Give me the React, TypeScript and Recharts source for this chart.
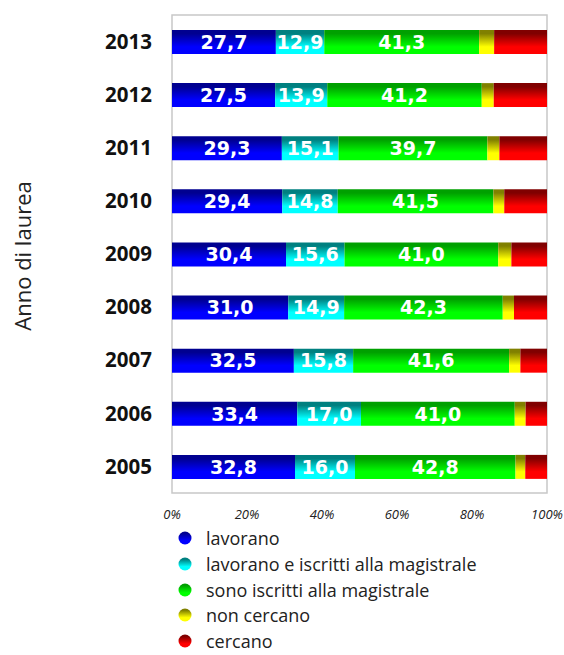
import React from 'react';
import { BarChart, Bar, XAxis, YAxis, LabelList, ReferenceArea, Legend } from 'recharts';

const years = ['2013', '2012', '2011', '2010', '2009', '2008', '2007', '2006', '2005'];
const lavorano = [27.7, 27.5, 29.3, 29.4, 30.4, 31.0, 32.5, 33.4, 32.8];
const lavoranoIscritti = [12.9, 13.9, 15.1, 14.8, 15.6, 14.9, 15.8, 17.0, 16.0];
const iscritti = [41.3, 41.2, 39.7, 41.5, 41.0, 42.3, 41.6, 41.0, 42.8];
const nonCercano = [4.0, 3.2, 3.2, 2.9, 3.5, 3.0, 3.0, 2.9, 2.6];
const cercano = [14.1, 14.2, 12.7, 11.4, 9.5, 8.8, 7.1, 5.7, 5.8];
const xTicks = [0, 20, 40, 60, 80, 100];

const seriesNames = [
  'lavorano',
  'lavorano e iscritti alla magistrale',
  'sono iscritti alla magistrale',
  'non cercano',
  'cercano',
];
const seriesKeys = ['lav', 'lavIsc', 'isc', 'nonCerc', 'cerc'];
const gradStops = [
  ['#000090', '#0000FF'],
  ['#008080', '#00FFFF'],
  ['#00A000', '#00FF00'],
  ['#808000', '#FFFF00'],
  ['#800000', '#FF0000'],
];
const labelled = [true, true, true, false, false];

const data = years.map((y, i) => ({
  year: y,
  lav: lavorano[i],
  lavIsc: lavoranoIscritti[i],
  isc: iscritti[i],
  nonCerc: nonCercano[i],
  cerc: cercano[i],
}));

const fmt = (v: any) => Number(v).toFixed(1).replace('.', ',');

const LegendContent = () => (
  <div style={{ width: 564, height: 130, position: 'relative' }}>
    {seriesNames.map((n, i) => (
      <div
        key={n}
        style={{
          position: 'absolute',
          left: 0,
          top: i * 25.8,
          height: 24,
          display: 'flex',
          alignItems: 'center',
        }}
      >
        <svg width={206} height={24} style={{ display: 'block' }}>
          <circle cx={185} cy={12} r={6.5} fill={`url(#grad${i})`} />
        </svg>
        <span
          style={{
            fontFamily: '"Open Sans", sans-serif',
            fontSize: 18,
            color: '#222',
            whiteSpace: 'nowrap',
            lineHeight: '18px',
          }}
        >
          {n}
        </span>
      </div>
    ))}
  </div>
);

const TitleLabel = (props: any) => {
  const vb = props.viewBox || { x: 0, y: 15, width: 172, height: 478 };
  const cx = vb.x + 22;
  const cy = vb.y + vb.height / 2 + 2;
  return (
    <text
      x={cx}
      y={cy}
      transform={`rotate(-90, ${cx}, ${cy})`}
      textAnchor="middle"
      dominantBaseline="central"
      fontFamily='"Open Sans", sans-serif'
      fontSize={22}
      fill="#222"
    >
      Anno di laurea
    </text>
  );
};

export default function App() {
  return (
    <div style={{ position: 'absolute', left: 0, top: 0, width: 564, height: 655, background: '#fff' }}>
      <BarChart
        width={564}
        height={655}
        data={data}
        layout="vertical"
        margin={{ top: 15, right: 17, left: 0, bottom: 0 }}
        barSize={24}
      >
        <defs>
          {gradStops.map((g, i) => (
            <linearGradient key={i} id={`grad${i}`} x1="0" y1="0" x2="0" y2="1">
              <stop offset="0" stopColor={g[0]} />
              <stop offset="0.15" stopColor={g[0]} />
              <stop offset="0.7" stopColor={g[1]} />
              <stop offset="1" stopColor={g[1]} />
            </linearGradient>
          ))}
        </defs>
        <XAxis
          type="number"
          domain={[0, 100]}
          ticks={xTicks}
          tickFormatter={(v: number) => `${v}%`}
          axisLine={false}
          tickLine={false}
          tickSize={0}
          tickMargin={17}
          height={32}
          interval={0}
          tick={{ fontFamily: '"Open Sans", sans-serif', fontStyle: 'italic', fontSize: 13, fill: '#222' }}
        />
        <YAxis
          type="category"
          dataKey="year"
          width={172}
          axisLine={false}
          tickLine={false}
          tickSize={0}
          tickMargin={20}
          interval={0}
          tick={{ fontFamily: '"Open Sans", sans-serif', fontWeight: 'bold', fontSize: 20.5, fill: '#111' }}
          label={<TitleLabel />}
        />
        <ReferenceArea x1={0} x2={100} fill="none" stroke="#C8C8C8" strokeWidth={1.5} ifOverflow="visible" />
        {seriesKeys.map((k, i) => (
          <Bar
            key={k}
            dataKey={k}
            name={seriesNames[i]}
            stackId="a"
            fill={`url(#grad${i})`}
            isAnimationActive={false}
          >
            {labelled[i] && (
              <LabelList
                dataKey={k}
                position="center"
                formatter={fmt}
                fill="#fff"
                style={{ fontFamily: '"DejaVu Sans", sans-serif', fontWeight: 'bold', fontSize: 19, fill: '#fff' }}
              />
            )}
          </Bar>
        ))}
        <Legend
          verticalAlign="bottom"
          content={<LegendContent />}
          wrapperStyle={{ position: 'absolute', left: 0, top: 526, bottom: 'auto', width: 564, height: 130 }}
        />
      </BarChart>
    </div>
  );
}
